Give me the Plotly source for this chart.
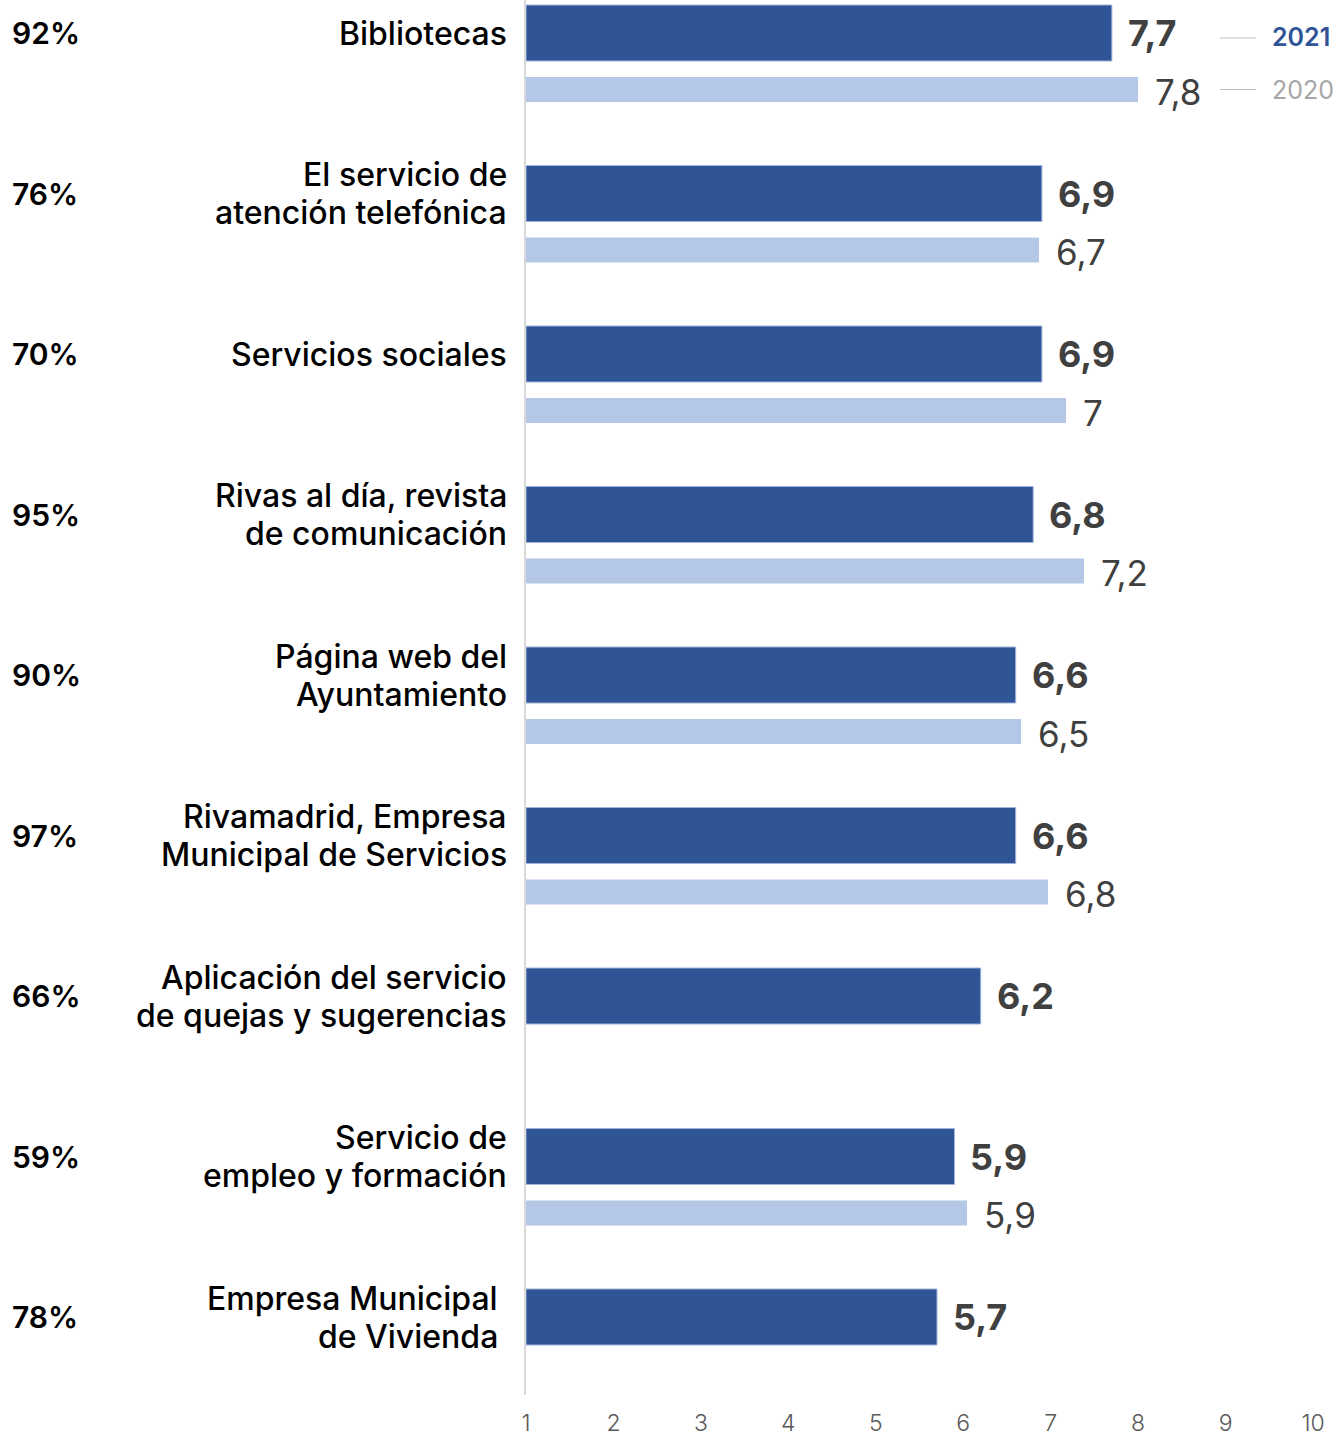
import plotly.graph_objects as go

categories = [
    "Bibliotecas",
    "El servicio de<br>atención telefónica",
    "Servicios sociales",
    "Rivas al día, revista<br>de comunicación",
    "Página web del<br>Ayuntamiento",
    "Rivamadrid, Empresa<br>Municipal de Servicios",
    "Aplicación del servicio<br>de quejas y sugerencias",
    "Servicio de<br>empleo y formación",
    "Empresa Municipal<br>de Vivienda",
]
percentages = ["92%", "76%", "70%", "95%", "90%", "97%", "66%", "59%", "78%"]
values_2021 = [7.7, 6.9, 6.9, 6.8, 6.6, 6.6, 6.2, 5.9, 5.7]
values_2020 = [7.8, 6.7, 7.0, 7.2, 6.5, 6.8, None, 5.9, None]
x_ticks = [1, 2, 3, 4, 5, 6, 7, 8, 9, 10]

DARK = "#2F5597"
LIGHT = "#B4C7E7"

W, H = 1339, 1436
L, R, T, B = 526, 26, 0, 41
plot_w = W - L - R
plot_h = H - T - B

period = 160.5
off2020 = 56.5 / period
w2021 = 56 / period
w2020 = 25 / period
y_top = -33 / period
y_bot = y_top + plot_h / period
line_gap = 38 / period

y21 = [i for i in range(len(categories))]
y20 = [i + off2020 for i in range(len(categories))]

def fmt(v):
    s = ("%.1f" % v).replace(".", ",")
    if s.endswith(",0"):
        s = s[:-2]
    return s

fig = go.Figure()
fig.add_trace(go.Bar(
    x=[v - 1 for v in values_2021], y=y21, base=1, orientation="h", width=w2021,
    marker=dict(color=DARK, line=dict(color="#9fb4db", width=1)),
    xaxis="x", yaxis="y", showlegend=False, hoverinfo="skip",
))
fig.add_trace(go.Bar(
    x=[v - 1 if v is not None else None for v in values_2020], y=y20, base=1,
    orientation="h", width=w2020,
    marker=dict(color=LIGHT, line=dict(width=0)),
    xaxis="x2", yaxis="y", showlegend=False, hoverinfo="skip",
))

annotations = []
for i, (cat, pct, v21, v20) in enumerate(zip(categories, percentages, values_2021, values_2020)):
    annotations.append(dict(
        x=v21, y=y21[i], xref="x", yref="y", text=fmt(v21), showarrow=False,
        xanchor="left", yanchor="middle", xshift=14,
        font=dict(family="Inter", size=36, color="#404040", weight=700),
    ))
    if v20 is not None:
        annotations.append(dict(
            x=v20, y=y20[i], xref="x2", yref="y", text=fmt(v20), showarrow=False,
            xanchor="left", yanchor="middle", xshift=15, yshift=-2,
            font=dict(family="Inter", size=35, color="#404040"),
        ))
    lines = cat.split("<br>")
    n = len(lines)
    for k, ln in enumerate(lines):
        yy = y21[i] + (k - (n - 1) / 2) * line_gap
        annotations.append(dict(
            x=0, y=yy, xref="paper", yref="y", text=ln, showarrow=False,
            xanchor="right", yanchor="middle", align="right",
            xshift=-17 if i < len(categories) - 1 else -26,
            font=dict(family="Inter", size=32, color="#000000", weight=500),
        ))
    annotations.append(dict(
        x=(10 - L) / plot_w, y=y21[i], xref="paper", yref="y", text=pct,
        showarrow=False, xanchor="left", yanchor="middle",
        font=dict(family="Inter", size=30, color="#000000", weight=600),
    ))

# legend labels
annotations.append(dict(
    x=(1270 - L) / plot_w, y=y21[0], xref="paper", yref="y", text="2021",
    showarrow=False, xanchor="left", yanchor="middle", yshift=-4,
    font=dict(family="Inter", size=25, color=DARK, weight=600),
))
annotations.append(dict(
    x=(1270 - L) / plot_w, y=y20[0], xref="paper", yref="y", text="2020",
    showarrow=False, xanchor="left", yanchor="middle",
    font=dict(family="Inter", size=25, color="#A6A6A6"),
))

shapes = [
    dict(type="line", xref="paper", yref="y",
         x0=(1220 - L) / plot_w, x1=(1256 - L) / plot_w,
         y0=y21[0] + 5 / period, y1=y21[0] + 5 / period,
         line=dict(color="#BFBFBF", width=1)),
    dict(type="line", xref="paper", yref="y",
         x0=(1220 - L) / plot_w, x1=(1256 - L) / plot_w,
         y0=y20[0], y1=y20[0],
         line=dict(color="#BFBFBF", width=1)),
]

fig.update_layout(
    width=W, height=H,
    margin=dict(l=L, r=R, t=T, b=B, pad=0, autoexpand=False),
    paper_bgcolor="white", plot_bgcolor="white",
    barmode="overlay",
    xaxis=dict(range=[1, 10], tickvals=x_ticks, ticktext=[str(t) for t in x_ticks],
               showgrid=False, zeroline=False, showline=False, ticks="",
               automargin=False,
               tickfont=dict(family="Inter", size=23, color="#595959", weight=300),
               ticklabelstandoff=12),
    xaxis2=dict(range=[1, 1 + plot_w / 90.0], overlaying="x", visible=False),
    yaxis=dict(range=[y_bot, y_top], showgrid=False, zeroline=False,
               showline=True, linecolor="#D9D9D9", linewidth=2,
               showticklabels=False, ticks="", automargin=False),
    annotations=annotations,
    shapes=shapes,
)

fig.write_html(
    "out.html",
    config={"displayModeBar": False},
    post_script="document.body.style.margin='0';document.body.style.padding='0';",
)
